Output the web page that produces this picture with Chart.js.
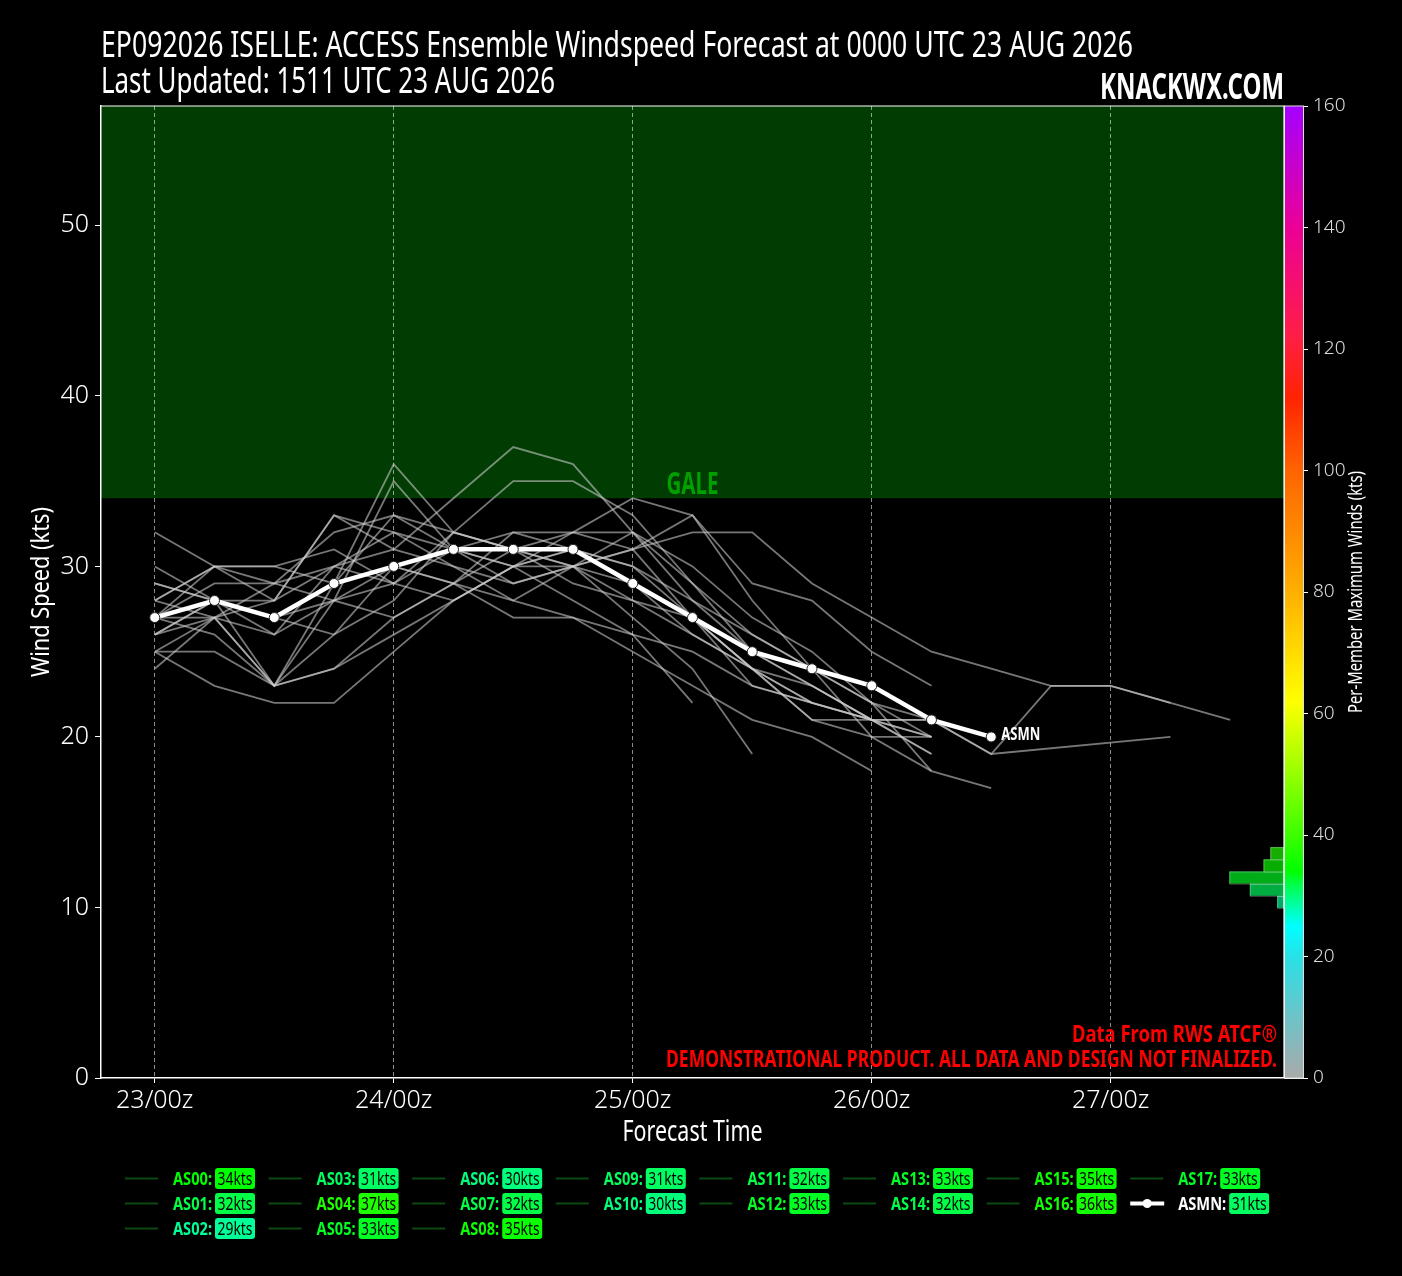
<!DOCTYPE html>
<html lang="en">
<head>
<meta charset="utf-8">
<title>EP092026 ISELLE ACCESS Ensemble Windspeed</title>
<script src="https://cdn.jsdelivr.net/npm/chart.js@4.4.1/dist/chart.umd.min.js"></script>
<style>
  html, body { margin: 0; background: #000; }
  #chart { display: block; }
</style>
</head>
<body>
<canvas id="chart" width="1402" height="1276"></canvas>
<script>
// forecast hours, every 6 h from 23/00z
const hours = [0, 6, 12, 18, 24, 30, 36, 42, 48, 54, 60, 66, 72, 78, 84, 90, 96, 102, 108];
const tickHours = [0, 24, 48, 72, 96];
const tickLabels = ['23/00z', '24/00z', '25/00z', '26/00z', '27/00z'];
const windTicks = [0, 10, 20, 30, 40, 50];

const memberNames = ['AS00', 'AS01', 'AS02', 'AS03', 'AS04', 'AS05', 'AS06', 'AS07', 'AS08',
                     'AS09', 'AS10', 'AS11', 'AS12', 'AS13', 'AS14', 'AS15', 'AS16', 'AS17'];
// wind speed (kts) per member, null = no forecast at that hour
const memberWinds = [
  [27, 27, 26, 28, 30, 29, 31, 32, 34, 33, 29, 28, 25, 23],
  [29, 28, 26, 30, 32, 31, 30, 30, 28, 26, 24, 22],
  [25, 25, 23, 24, 27, 29, 27, 27, 26, 25, 23, 22, 21, 21, 19, null, null, 20],
  [28, 30, 30, 31, 29, 28, 30, 31, 30, 28, 26, 24, 22, 20],
  [28, 30, 29, 30, 31, 34, 37, 36, 32, 28, 25, 23, 21, 19],
  [32, 30, 28, 33, 31, 30, 29, 30, 32, 30, 27, 25, 22, 18],
  [24, 27, 23, 26, 30, 29, 28, 27, 25, 23, 21, 20, 18],
  [26, 28, 27, 28, 27, 29, 32, 31, 30, 27, 23, 22, 21],
  [29, 28, 28, 30, 29, 32, 35, 35, 33, 29, 26, 24, 22, 21, 19, 23, 23, 22],
  [27, 29, 29, 28, 29, 31, 30, 31, 29, 26, 24, 22, 21, 19],
  [25, 23, 22, 22, 25, 28, 30, 28, 26, 22],
  [30, 28, 27, 26, 28, 32, 31, 29, 28, 27, 24, 21, 20, 20],
  [26, 27, 29, 32, 33, 31, 32, 32, 31, 32, 32, 29, 27, 25, 24, 23, 23, 22, 21],
  [28, 27, 28, 33, 32, 30, 28, 30, 31, 33, 28, 24, 20, 18, 17],
  [27, 26, 23, 24, 26, 28, 30, 32, 32, 29, 25, 23, 21, 20],
  [26, 28, 23, 28, 35, 31, 29, 30, 31, 27, 24, 23, 21, 20],
  [25, 27, 23, 29, 36, 32, 31, 30, 27, 24, 19],
  [27, 30, 30, 29, 33, 32, 31, 30, 29, 27, 24, 21, 21, 21]
];
const meanWinds = [27, 28, 27, 29, 30, 31, 31, 31, 29, 27, 25, 24, 23, 21, 20];
const memberMax = [34, 32, 29, 31, 37, 33, 30, 32, 35, 31, 30, 32, 33, 33, 32, 35, 36, 33];
const meanMax = 31;
const galeMin = 34;
// histogram of per-member maximum winds (kts)
const histEdges = [28, 30, 32, 34, 36, 38];
const histCounts = [1, 5, 8, 3, 2];

const FONT = '"Noto Sans", "DejaVu Sans", sans-serif';
Chart.defaults.font.family = FONT;

// colour scale used for the colorbar, legend badges and histogram
const cmapStops = [
  [0, [170, 170, 170]], [10, [110, 195, 200]], [20, [40, 225, 230]], [25, [0, 255, 255]],
  [29, [0, 255, 150]], [32, [0, 255, 70]], [34, [0, 255, 0]], [40, [60, 255, 0]],
  [50, [150, 255, 0]], [62, [255, 255, 0]], [80, [255, 175, 0]], [100, [255, 100, 0]],
  [112, [255, 35, 0]], [122, [255, 30, 70]], [140, [235, 0, 150]], [160, [165, 0, 255]]
];
function cmap(v, alpha) {
  let i = 0;
  while (i < cmapStops.length - 2 && v > cmapStops[i + 1][0]) i++;
  const [v0, c0] = cmapStops[i], [v1, c1] = cmapStops[i + 1];
  const t = Math.max(0, Math.min(1, (v - v0) / (v1 - v0)));
  const c = c0.map((ch, k) => Math.round(ch + (c1[k] - ch) * t));
  return alpha === undefined ? `rgb(${c})` : `rgba(${c},${alpha})`;
}

// condensed text: squeeze horizontally by sx (or to a given width)
function setFont(ctx, font) {
  ctx.font = font;
  if ('fontStretch' in ctx) ctx.fontStretch = 'condensed';
}
function squeeze(ctx, str, x, y, font, sx, align) {
  setFont(ctx, font);
  ctx.save();
  ctx.translate(x, y);
  ctx.scale(sx, 1);
  ctx.textAlign = align || 'left';
  ctx.fillText(str, 0, 0);
  ctx.restore();
  return ctx.measureText(str).width * sx;
}
function fitText(ctx, str, x, y, font, width, align) {
  setFont(ctx, font);
  return squeeze(ctx, str, x, y, font, width / ctx.measureText(str).width, align);
}

const toPoints = arr => arr.map((v, i) => ({ x: hours[i], y: v }));

const datasets = [{
  label: 'ASMN',
  data: toPoints(meanWinds),
  borderColor: '#fff',
  borderWidth: 4.5,
  pointRadius: 5,
  pointBackgroundColor: '#fff',
  pointBorderColor: '#222',
  pointBorderWidth: 1,
  order: 0
}].concat(memberWinds.map((w, i) => ({
  label: memberNames[i],
  data: toPoints(w),
  borderColor: 'rgba(205,205,205,0.58)',
  borderWidth: 1.8,
  pointRadius: 0,
  spanGaps: true,
  order: 1
})));

const decorations = {
  id: 'decorations',
  beforeDraw(c) {
    const { ctx, chartArea: a, scales: { y } } = c;
    ctx.save();
    ctx.fillStyle = '#000';
    ctx.fillRect(0, 0, c.width, c.height);
    const yTop = y.getPixelForValue(y.max), yGale = y.getPixelForValue(galeMin);
    ctx.fillStyle = '#013d02';
    ctx.fillRect(a.left, yTop, a.right - a.left, yGale - yTop);
    ctx.restore();
  },
  afterDatasetsDraw(c) {
    const { ctx, chartArea: a, scales: { x, y, y2, xh } } = c;
    ctx.save();
    // histogram against the colorbar
    histCounts.forEach((n, i) => {
      const x0 = xh.getPixelForValue(0), x1 = xh.getPixelForValue(n);
      const yb = y2.getPixelForValue(histEdges[i]), yt = y2.getPixelForValue(histEdges[i + 1]);
      ctx.fillStyle = cmap((histEdges[i] + histEdges[i + 1]) / 2, 0.68);
      ctx.fillRect(x1, yt, x0 - x1, yb - yt);
      ctx.strokeStyle = 'rgba(255,255,255,0.3)';
      ctx.lineWidth = 1;
      ctx.strokeRect(x1 + 0.5, yt + 0.5, x0 - x1 - 1, yb - yt);
    });
    ctx.textBaseline = 'alphabetic';
    // gale label
    ctx.fillStyle = '#00a000';
    fitText(ctx, 'GALE', x.getPixelForValue((x.min + x.max) / 2), y.getPixelForValue(galeMin) - 4,
            'bold 31px ' + FONT, 52, 'center');
    // mean label
    const last = meanWinds.length - 1;
    ctx.fillStyle = '#fff';
    fitText(ctx, 'ASMN', x.getPixelForValue(hours[last]) + 10, y.getPixelForValue(meanWinds[last]) + 3,
            'bold 17px ' + FONT, 39, 'left');
    // credits
    ctx.fillStyle = '#ff0000';
    fitText(ctx, 'Data From RWS ATCF®', a.right - 7, a.bottom - 36, 'bold 24px ' + FONT, 205, 'right');
    fitText(ctx, 'DEMONSTRATIONAL PRODUCT. ALL DATA AND DESIGN NOT FINALIZED.', a.right - 7, a.bottom - 11,
            'bold 24px ' + FONT, 611, 'right');
    ctx.restore();
  },
  afterDraw(c) {
    const { ctx, chartArea: a, scales: { y2 } } = c;
    ctx.save();
    // colorbar
    const yt = y2.getPixelForValue(160), yb = y2.getPixelForValue(0);
    const g = ctx.createLinearGradient(0, yb, 0, yt);
    cmapStops.forEach(([v]) => g.addColorStop(v / 160, cmap(v)));
    ctx.fillStyle = g;
    ctx.fillRect(a.right, yt, 19, yb - yt);
    ctx.strokeStyle = '#ddd';
    ctx.lineWidth = 1;
    ctx.strokeRect(a.right + 0.5, yt, 19, yb - yt);
    // frame
    ctx.strokeStyle = '#fff';
    ctx.lineWidth = 1.2;
    ctx.beginPath();
    ctx.moveTo(a.left, a.top);
    ctx.lineTo(a.right, a.top);
    ctx.lineTo(a.right, a.bottom);
    ctx.stroke();

    ctx.fillStyle = '#fff';
    ctx.textBaseline = 'alphabetic';
    // titles
    fitText(ctx, 'EP092026 ISELLE: ACCESS Ensemble Windspeed Forecast at 0000 UTC 23 AUG 2026',
            a.left, 57, '37px ' + FONT, 1032, 'left');
    fitText(ctx, 'Last Updated: 1511 UTC 23 AUG 2026', a.left, 93, '37px ' + FONT, 454, 'left');
    fitText(ctx, 'KNACKWX.COM', a.right, 99, 'bold 36px ' + FONT, 184, 'right');
    // axis titles
    fitText(ctx, 'Forecast Time', (a.left + a.right) / 2, 1141, '29px ' + FONT, 140, 'center');
    const mid = (a.top + a.bottom) / 2;
    ctx.save();
    ctx.translate(49, mid);
    ctx.rotate(-Math.PI / 2);
    fitText(ctx, 'Wind Speed (kts)', 0, 0, '26px ' + FONT, 170, 'center');
    ctx.restore();
    ctx.save();
    ctx.translate(1362, mid);
    ctx.rotate(-Math.PI / 2);
    fitText(ctx, 'Per-Member Maximum Winds (kts)', 0, 0, '19px ' + FONT, 242, 'center');
    ctx.restore();

    // legend: member lines with their maximum wind badge
    const legendCols = [3, 3, 3, 2, 2, 2, 2, 2];
    const entries = memberNames.map((n, i) => ({ name: n, max: memberMax[i], mean: false }))
      .concat([{ name: 'ASMN', max: meanMax, mean: true }]);
    setFont(ctx, 'bold 18px ' + FONT);
    const labK = 39 / ctx.measureText('AS00:').width;
    setFont(ctx, '18px ' + FONT);
    const badgeK = 35 / ctx.measureText('34kts').width;
    let k = 0;
    legendCols.forEach((n, col) => {
      for (let row = 0; row < n; row++) {
        const e = entries[k++];
        const x0 = 125 + col * 143.6, yc = 1178.5 + row * 25;
        if (e.mean) {
          ctx.strokeStyle = '#fff';
          ctx.lineWidth = 4;
          ctx.beginPath(); ctx.moveTo(x0, yc); ctx.lineTo(x0 + 34, yc); ctx.stroke();
          ctx.fillStyle = '#fff';
          ctx.beginPath(); ctx.arc(x0 + 17, yc, 4.5, 0, Math.PI * 2); ctx.fill();
        } else {
          ctx.strokeStyle = '#0b4a12';
          ctx.lineWidth = 2;
          ctx.beginPath(); ctx.moveTo(x0, yc); ctx.lineTo(x0 + 33, yc); ctx.stroke();
        }
        ctx.fillStyle = e.mean ? '#fff' : cmap(e.max);
        const lw = squeeze(ctx, e.name + ':', x0 + 48, yc + 6.5, 'bold 18px ' + FONT, labK, 'left');
        setFont(ctx, '18px ' + FONT);
        const txt = e.max + 'kts';
        const bw = ctx.measureText(txt).width * badgeK;
        const bx = x0 + 48 + lw + 3;
        ctx.fillStyle = cmap(e.max);
        ctx.beginPath();
        ctx.roundRect(bx, yc - 10.5, bw + 5, 21, 3);
        ctx.fill();
        ctx.fillStyle = '#000';
        squeeze(ctx, txt, bx + 2.5, yc + 6.5, '18px ' + FONT, badgeK, 'left');
      }
    });
    ctx.restore();
  }
};

const chart = new Chart(document.getElementById('chart'), {
  type: 'line',
  data: { datasets },
  plugins: [decorations],
  options: {
    responsive: false,
    animation: false,
    devicePixelRatio: 1,
    layout: { padding: { left: 0, right: 0, top: 106, bottom: 118 } },
    elements: { line: { tension: 0 } },
    plugins: { legend: { display: false }, tooltip: { enabled: false } },
    scales: {
      x: {
        type: 'linear', min: -5.4, max: 113.4,
        afterBuildTicks: s => { s.ticks = tickHours.map(v => ({ value: v })); },
        afterFit: s => { s.height = 80; },
        ticks: { color: '#fff', font: { size: 25, weight: 300 }, padding: 3, maxRotation: 0,
                 callback: v => tickLabels[tickHours.indexOf(v)] },
        grid: { color: 'rgba(255,255,255,0.55)', lineWidth: 1, tickLength: 5, tickColor: '#fff' },
        border: { display: true, color: '#fff', width: 1.5, dash: [4, 3] }
      },
      y: {
        min: 0, max: 57,
        afterBuildTicks: s => { s.ticks = windTicks.map(v => ({ value: v })); },
        afterFit: s => { s.width = 101; },
        ticks: { color: '#fff', font: { size: 25, weight: 300 }, padding: 6 },
        grid: { drawOnChartArea: false, tickLength: 6, color: '#fff' },
        border: { display: true, color: '#fff', width: 1.5 }
      },
      y2: {
        position: 'right', min: 0, max: 160,
        afterFit: s => { s.width = 118; },
        ticks: { stepSize: 20, color: '#ddd', font: { size: 19, weight: 300 }, padding: 5 },
        grid: { drawOnChartArea: false, tickLength: 24, color: '#fff' },
        border: { display: false }
      },
      xh: { type: 'linear', display: false, reverse: true, min: 0, max: 173, position: 'top' }
    }
  }
});
</script>
</body>
</html>
